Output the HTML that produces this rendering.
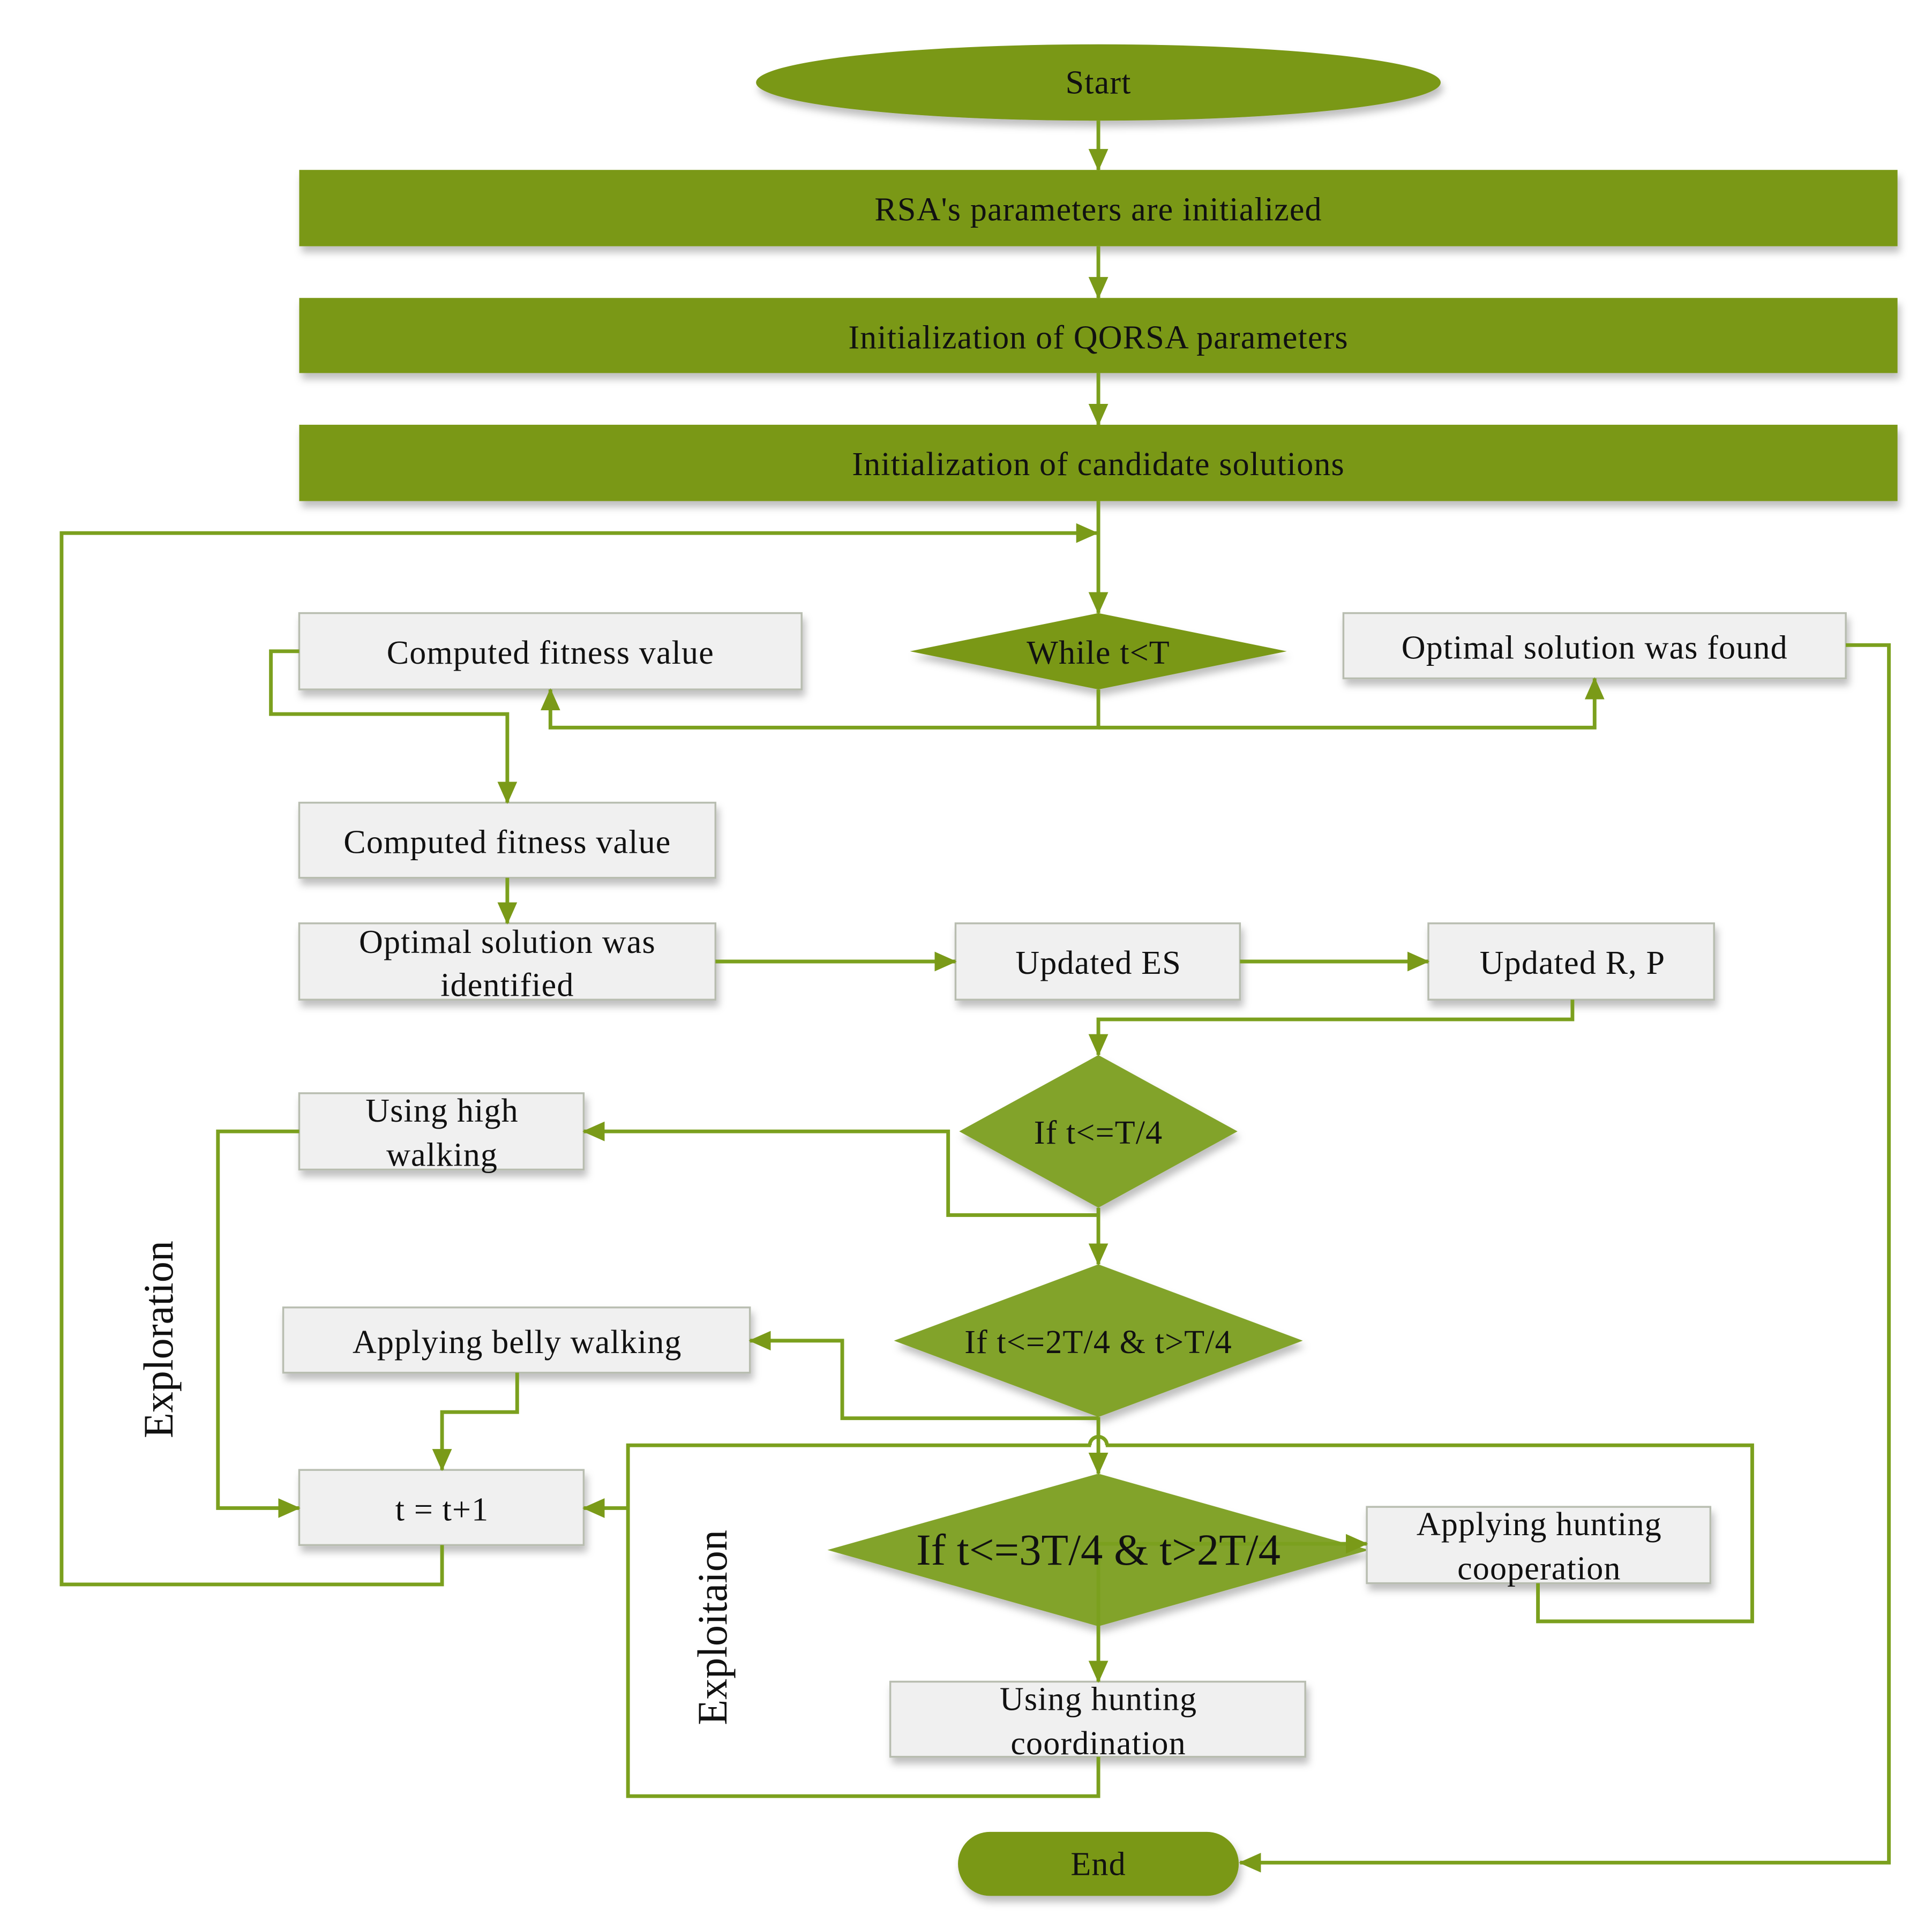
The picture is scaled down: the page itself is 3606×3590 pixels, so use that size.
<!DOCTYPE html>
<html><head><meta charset="utf-8"><style>html,body{margin:0;padding:0;background:#fff}svg{display:block}</style></head>
<body>
<svg width="3606" height="3590" viewBox="0 0 1569 1562" xmlns="http://www.w3.org/2000/svg" style="font-family:'Liberation Serif',serif">
<defs>
<marker id="a" markerWidth="18" markerHeight="16" refX="17" refY="8" orient="auto" markerUnits="userSpaceOnUse" viewBox="0 0 18 16">
<path d="M0,0 L18,8 L0,16 z" fill="#7a9a18"/></marker>
<filter id="s" x="-10%" y="-20%" width="120%" height="160%"><feDropShadow dx="2" dy="5" stdDeviation="3" flood-color="#000" flood-opacity="0.25"/></filter>
</defs>
<style>
.g{fill:#7a9818}
.b{fill:#f0f0f0;stroke:#b8bdb0;stroke-width:1.5}
.l{fill:none;stroke:#7ba01e;stroke-width:3}
text{font-size:27px;fill:#111;text-anchor:middle;letter-spacing:0.5px;font-family:'Liberation Serif',serif}
</style>
<ellipse class="g" cx="892" cy="67" rx="278" ry="31" filter="url(#s)"/>
<rect class="g" x="243" y="138" width="1298" height="62" filter="url(#s)"/>
<rect class="g" x="243" y="242" width="1298" height="61" filter="url(#s)"/>
<rect class="g" x="243" y="345" width="1298" height="62" filter="url(#s)"/>
<polygon class="g" points="892,498 1045,529 892,560 739,529" filter="url(#s)"/>
<rect class="b" x="243" y="498" width="408" height="62" filter="url(#s)"/>
<rect class="b" x="1091" y="498" width="408" height="53" filter="url(#s)"/>
<rect class="b" x="243" y="652" width="338" height="61" filter="url(#s)"/>
<rect class="b" x="243" y="750" width="338" height="62" filter="url(#s)"/>
<rect class="b" x="776" y="750" width="231" height="62" filter="url(#s)"/>
<rect class="b" x="1160" y="750" width="232" height="62" filter="url(#s)"/>
<polygon points="892,857 1005,919 892,981 779,919" filter="url(#s)" fill="#82a32a"/>
<rect class="b" x="243" y="888" width="231" height="62" filter="url(#s)"/>
<polygon points="892,1027 1058,1089 892,1151 726,1089" filter="url(#s)" fill="#82a32a"/>
<rect class="b" x="230" y="1062" width="379" height="53" filter="url(#s)"/>
<rect class="b" x="243" y="1194" width="231" height="61" filter="url(#s)"/>
<polygon points="892,1197 1112,1259 892,1321 672,1259" filter="url(#s)" fill="#82a32a"/>
<rect class="b" x="1110" y="1224" width="279" height="62" filter="url(#s)"/>
<rect class="b" x="723" y="1366" width="337" height="61" filter="url(#s)"/>
<rect class="g" x="778" y="1488" width="228" height="52" rx="26" filter="url(#s)"/>
<line class="l" x1="892" y1="98" x2="892" y2="138" marker-end="url(#a)"/>
<line class="l" x1="892" y1="200" x2="892" y2="242" marker-end="url(#a)"/>
<line class="l" x1="892" y1="303" x2="892" y2="345" marker-end="url(#a)"/>
<line class="l" x1="892" y1="407" x2="892" y2="498" marker-end="url(#a)"/>
<polyline class="l" points="359,1255 359,1287 50,1287 50,433 891,433" marker-end="url(#a)"/>
<polyline class="l" points="892,560 892,591 447,591 447,560" marker-end="url(#a)"/>
<polyline class="l" points="892,591 1295,591 1295,551" marker-end="url(#a)"/>
<polyline class="l" points="1499,524 1534,524 1534,1513 1007,1513" marker-end="url(#a)"/>
<polyline class="l" points="243,529 220,529 220,580 412,580 412,652" marker-end="url(#a)"/>
<line class="l" x1="412" y1="713" x2="412" y2="750" marker-end="url(#a)"/>
<line class="l" x1="581" y1="781" x2="776" y2="781" marker-end="url(#a)"/>
<line class="l" x1="1007" y1="781" x2="1160" y2="781" marker-end="url(#a)"/>
<polyline class="l" points="1277,812 1277,828 892,828 892,857" marker-end="url(#a)"/>
<polyline class="l" points="892,987 770,987 770,919 474,919" marker-end="url(#a)"/>
<line class="l" x1="892" y1="981" x2="892" y2="1027" marker-end="url(#a)"/>
<polyline class="l" points="892,1152 684,1152 684,1089 609,1089" marker-end="url(#a)"/>
<line class="l" x1="892" y1="1151" x2="892" y2="1197" marker-end="url(#a)"/>
<polyline class="l" points="420,1115 420,1147 359,1147 359,1194" marker-end="url(#a)"/>
<polyline class="l" points="243,919 177,919 177,1225 243,1225" marker-end="url(#a)"/>
<polyline class="l" points="886,1174 510,1174 510,1459 892,1459 892,1427"/>
<line class="l" x1="510" y1="1225" x2="474" y2="1225" marker-end="url(#a)"/>
<polyline class="l" points="898,1174 1423,1174 1423,1317 1249,1317 1249,1286"/>
<path class="l" d="M885,1174 a7,7 0 0 1 14,0"/>
<line class="l" x1="892" y1="1254" x2="1110" y2="1254" marker-end="url(#a)"/>
<line class="l" x1="892" y1="1259" x2="892" y2="1366" marker-end="url(#a)"/>
<text x="892" y="76">Start</text>
<text x="892" y="179">RSA's parameters are initialized</text>
<text x="892" y="283">Initialization of QORSA parameters</text>
<text x="892" y="386">Initialization of candidate solutions</text>
<text x="892" y="539">While t&lt;T</text>
<text x="447" y="539">Computed fitness value</text>
<text x="1295" y="535">Optimal solution was found</text>
<text x="412" y="693">Computed fitness value</text>
<text x="412" y="774">Optimal solution was</text>
<text x="412" y="809">identified</text>
<text x="892" y="791">Updated ES</text>
<text x="1277" y="791">Updated R, P</text>
<text x="892" y="929">If t&lt;=T/4</text>
<text x="359" y="911">Using high</text>
<text x="359" y="947">walking</text>
<text x="892" y="1099">If t&lt;=2T/4 &amp; t&gt;T/4</text>
<text x="420" y="1099">Applying belly walking</text>
<text x="359" y="1235">t = t+1</text>
<text x="892" y="1271" style="font-size:36px;letter-spacing:0">If t&lt;=3T/4 &amp; t&gt;2T/4</text>
<text x="1250" y="1247">Applying hunting</text>
<text x="1250" y="1283">cooperation</text>
<text x="892" y="1389">Using hunting</text>
<text x="892" y="1425">coordination</text>
<text x="892" y="1523">End</text>
<text transform="translate(140,1088) rotate(-90)" style="font-size:34px;letter-spacing:0">Exploration</text>
<text transform="translate(590,1322) rotate(-90)" style="font-size:34px;letter-spacing:0">Exploitaion</text>
</svg>
</body></html>
